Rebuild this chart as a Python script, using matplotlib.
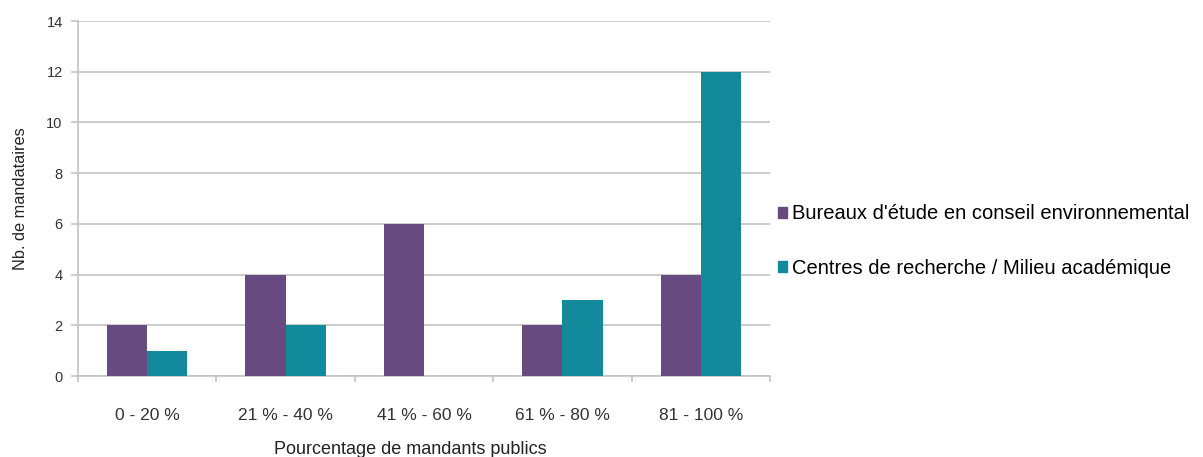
import matplotlib
matplotlib.use("Agg")
import matplotlib.pyplot as plt
import numpy as np
from matplotlib.patches import Patch

categories = ["0 - 20 %", "21 % - 40 %", "41 % - 60 %", "61 % - 80 %", "81 - 100 %"]
bureaux = [2, 4, 6, 2, 4]
centres = [1, 2, 0, 3, 12]
series_names = ["Bureaux d'étude en conseil environnemental", "Centres de recherche / Milieu académique"]
yticks = [0, 2, 4, 6, 8, 10, 12, 14]

purple = "#674a7f"
teal = "#128a9b"
grid_c = "#c4c4c4"

plt.rcParams['font.family'] = ['Liberation Sans', 'DejaVu Sans']

fig = plt.figure(figsize=(12.03, 4.57), dpi=100)
ax = fig.add_axes([78/1203, 1-376/457, (770-78)/1203, (376-21)/457])

x = np.arange(len(categories))
w = 0.29
ax.bar(x - w/2, bureaux, w, color=purple, zorder=3)
ax.bar(x + w/2, centres, w, color=teal, zorder=3)

ax.set_xlim(-0.5, len(categories) - 0.5)
ax.set_ylim(0, 14)
ax.set_yticks(yticks)
ax.yaxis.grid(True, color=grid_c, linewidth=1.2, zorder=0)
ax.set_xticks(x)
ax.set_xticklabels(categories, fontsize=12.5, color="#333333")
ax.set_xticks(np.arange(-0.5, len(categories)), minor=True)
ax.tick_params(axis='x', which='major', length=0, pad=23)
ax.tick_params(axis='x', which='minor', length=4, color=grid_c, width=1.2)
ax.tick_params(axis='y', length=5, color=grid_c, width=1.2, labelsize=10.5, labelcolor="#333333", pad=6)
for s in ['top', 'right']:
    ax.spines[s].set_visible(False)
for s in ['left', 'bottom']:
    ax.spines[s].set_color(grid_c)
    ax.spines[s].set_linewidth(1.2)

ax.set_ylabel("Nb. de mandataires", fontsize=11.8, color="#222222", labelpad=13)
fig.text(410/1203, 1-449/457, "Pourcentage de mandants publics", fontsize=13, color="#222222",
         ha='center', va='center')

handles = [Patch(color=purple), Patch(color=teal)]
fig.legend(handles, series_names, loc='center left', bbox_to_anchor=(770/1203, 1-241/457),
           frameon=False, fontsize=14.5, handlelength=0.45, handleheight=0.45,
           handletextpad=0.25, labelspacing=1.75, borderaxespad=0)

fig.savefig("out.png", dpi=100)
